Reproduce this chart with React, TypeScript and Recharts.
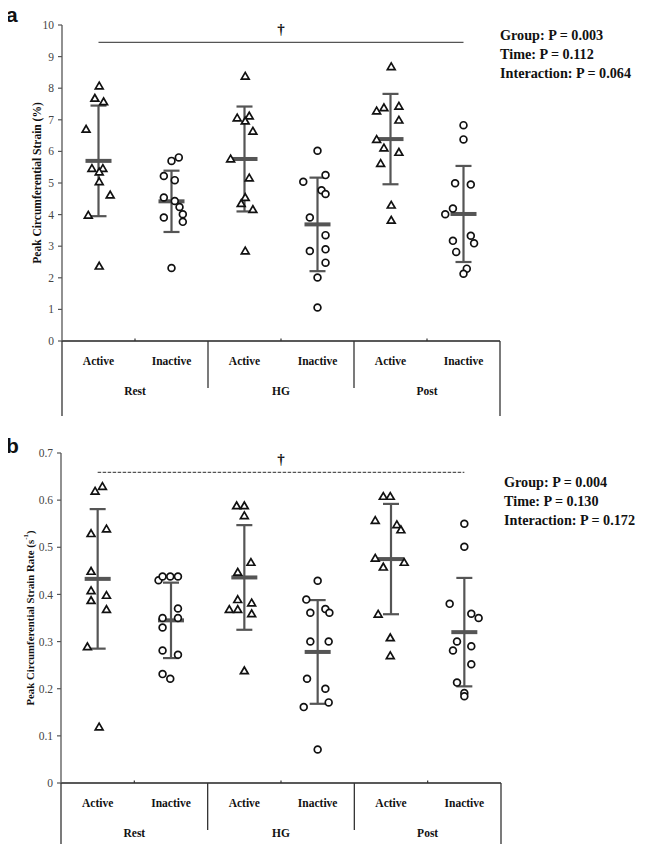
import React from 'react';
import { ScatterChart, Scatter, XAxis, YAxis, ErrorBar, ReferenceLine } from 'recharts';

// ---------- labels ----------
const catLabels = ['Active', 'Inactive', 'Active', 'Inactive', 'Active', 'Inactive'];
const groupLabels = ['Rest', 'HG', 'Post'];
const strainTicks = [0, 1, 2, 3, 4, 5, 6, 7, 8, 9, 10];
const rateTicks = [0, 0.1, 0.2, 0.3, 0.4, 0.5, 0.6, 0.7];
const xTicks = [0, 0.5, 1, 1.5, 2, 2.5, 3, 3.5, 4, 4.5, 5, 5.5, 6];
const statsA = ['Group: P = 0.003', 'Time: P = 0.112', 'Interaction: P = 0.064'];
const statsB = ['Group: P = 0.004', 'Time: P = 0.130', 'Interaction: P = 0.172'];

// ---------- panel a: peak circumferential strain (%) ----------
const strainRestActive = [8.07, 7.68, 7.57, 6.7, 5.46, 5.46, 5.35, 5.04, 4.62, 3.98, 2.37];
const strainRestActiveJit = [0.01, -0.05, 0.07, -0.17, -0.09, 0.06, 0.01, 0.01, 0.16, -0.14, 0.01];
const strainRestInactive = [5.81, 5.7, 5.22, 5.09, 4.54, 4.43, 4.24, 4.01, 3.91, 3.77, 2.31];
const strainRestInactiveJit = [0.1, 0, -0.105, 0.045, -0.105, 0.045, 0.11, 0.155, -0.105, 0.155, 0];
const strainHGActive = [8.38, 7.06, 7.12, 6.96, 6.64, 5.76, 5.16, 4.54, 4.35, 4.16, 2.85];
const strainHGActiveJit = [0.01, -0.1, 0.065, 0.01, 0.115, -0.19, 0.065, 0.01, -0.045, 0.115, 0.01];
const strainHGInactive = [6.02, 5.25, 5.04, 4.77, 4.65, 3.91, 3.35, 2.85, 2.9, 2.48, 2.01, 1.06];
const strainHGInactiveJit = [0, 0.11, -0.195, 0.055, 0.11, -0.105, 0.11, -0.105, 0.11, 0.11, 0, 0];
const strainPostActive = [8.68, 7.28, 7.38, 7.43, 6.99, 6.38, 6.11, 5.97, 5.62, 4.3, 3.82];
const strainPostActiveJit = [0.01, -0.19, -0.09, 0.115, 0.115, -0.19, -0.09, 0.115, -0.135, 0.01, 0.01];
const strainPostInactive = [6.83, 6.38, 4.99, 4.95, 4.19, 4.01, 3.17, 3.33, 3.09, 2.82, 2.29, 2.13];
const strainPostInactiveJit = [0, 0, -0.115, 0.1, -0.145, -0.25, -0.145, 0.1, 0.145, -0.1, 0.045, 0];
const strainMeans = [5.7, 4.42, 5.76, 3.69, 6.39, 4.02];
const strainSDs = [1.75, 0.97, 1.66, 1.48, 1.43, 1.52];
const strainSigY = 9.45;

// ---------- panel b: peak circumferential strain rate (s^-1) ----------
const rateRestActive = [0.619, 0.629, 0.529, 0.539, 0.449, 0.408, 0.398, 0.387, 0.368, 0.289, 0.119];
const rateRestActiveJit = [-0.035, 0.065, -0.09, 0.12, -0.09, -0.09, 0.12, -0.09, 0.12, -0.14, 0.02];
const rateRestInactive = [0.43, 0.438, 0.438, 0.438, 0.37, 0.35, 0.35, 0.33, 0.281, 0.272, 0.231, 0.221];
const rateRestInactiveJit = [-0.17, -0.115, -0.01, 0.095, 0.095, -0.115, 0.095, -0.115, -0.115, 0.095, -0.115, -0.01];
const rateHGActive = [0.588, 0.588, 0.567, 0.468, 0.447, 0.389, 0.368, 0.368, 0.382, 0.359, 0.238];
const rateHGActiveJit = [-0.105, 0, 0, 0.09, -0.09, -0.09, -0.205, -0.09, 0.1, 0.1, 0];
const rateHGInactive = [0.429, 0.389, 0.361, 0.369, 0.361, 0.3, 0.3, 0.221, 0.2, 0.161, 0.171, 0.071];
const rateHGInactiveJit = [0, -0.155, -0.1, 0.105, 0.16, -0.1, 0.15, -0.145, 0.105, -0.19, 0.15, 0];
const ratePostActive = [0.608, 0.608, 0.557, 0.548, 0.537, 0.477, 0.468, 0.458, 0.358, 0.308, 0.27];
const ratePostActiveJit = [-0.105, -0.01, -0.215, 0.08, 0.135, -0.215, 0.18, -0.105, -0.175, -0.01, -0.01];
const ratePostInactive = [0.55, 0.501, 0.38, 0.359, 0.35, 0.3, 0.29, 0.281, 0.252, 0.213, 0.191, 0.184];
const ratePostInactiveJit = [0, 0, -0.2, 0.095, 0.195, -0.1, 0.095, -0.155, 0.095, -0.1, 0, 0];
const rateMeans = [0.433, 0.345, 0.436, 0.278, 0.475, 0.32];
const rateSDs = [0.148, 0.08, 0.111, 0.11, 0.117, 0.115];
const rateSigY = 0.659;

// ---------- helpers ----------
type Pt = { x: number; y: number };
function buildPoints(groups: number[][], jits: number[][], offset: number): Pt[] {
  const out: Pt[] = [];
  groups.forEach((vals, g) => {
    vals.forEach((v, i) => {
      out.push({ x: g * 2 + offset + 0.5 + jits[g][i], y: v });
    });
  });
  return out;
}
function buildSummary(means: number[], sds: number[]) {
  return means.map((m, i) => ({ x: i + 0.5, y: m, sd: sds[i] }));
}

const SERIF = '"Liberation Serif", "Times New Roman", serif';
const INK = '#111';
const GRAY = '#555';

const Triangle = (props: any) => {
  const { cx, cy } = props;
  if (cx == null || cy == null) return null;
  return (
    <polygon
      points={`${cx},${cy - 3.8} ${cx + 3.9},${cy + 2.9} ${cx - 3.9},${cy + 2.9}`}
      fill="#fff"
      stroke={INK}
      strokeWidth={1.7}
      strokeLinejoin="miter"
    />
  );
};
const Circle = (props: any) => {
  const { cx, cy } = props;
  if (cx == null || cy == null) return null;
  return <circle cx={cx} cy={cy} r={3.4} fill="#fff" stroke={INK} strokeWidth={1.7} />;
};
const MeanBar = (props: any) => {
  const { cx, cy } = props;
  if (cx == null || cy == null) return null;
  return <rect x={cx - 13} y={cy - 2} width={26} height={4} fill={GRAY} />;
};

const XTick = (props: any) => {
  const { x, y, payload } = props;
  const v = payload.value as number;
  const n = Math.round(v);
  if (Math.abs(v - n) > 0.1) {
    const idx = Math.floor(v);
    return (
      <text x={x} y={y + 24} textAnchor="middle" fontFamily={SERIF} fontWeight="bold" fontSize={11.5} fill={INK}>
        {catLabels[idx]}
      </text>
    );
  }
  if (n % 2 === 1) {
    return (
      <g>
        <line x1={x} x2={x} y1={y - 2.5} y2={y} stroke="#333" strokeWidth={1.2} />
        <text x={x} y={y + 54} textAnchor="middle" fontFamily={SERIF} fontWeight="bold" fontSize={11.5} fill={INK}>
          {groupLabels[(n - 1) / 2]}
        </text>
      </g>
    );
  }
  const len = n === 0 || n === 6 ? 75 : 47;
  return <line x1={x} x2={x} y1={y} y2={y + len} stroke="#333" strokeWidth={1.3} />;
};

const YLabel = (props: any) => {
  const { viewBox, shift, size, children } = props;
  if (!viewBox) return null;
  const cx = viewBox.x + shift;
  const cy = viewBox.y + viewBox.height / 2;
  return (
    <text
      x={cx}
      y={cy}
      transform={`rotate(-90, ${cx}, ${cy})`}
      textAnchor="middle"
      dominantBaseline="central"
      fontFamily={SERIF}
      fontWeight="bold"
      fontSize={size}
      fill={INK}
    >
      {children}
    </text>
  );
};

type PanelProps = {
  width: number;
  height: number;
  margin: { top: number; right: number; bottom: number; left: number };
  active: Pt[];
  inactive: Pt[];
  summary: { x: number; y: number; sd: number }[];
  ticks: number[];
  domainMax: number;
  sigY: number;
  dashed: boolean;
  yLabel: React.ReactElement;
  fmt: (v: number) => string;
};

const Panel = (p: PanelProps) => (
  <ScatterChart width={p.width} height={p.height} margin={p.margin}>
    <XAxis
      type="number"
      dataKey="x"
      domain={[0, 6]}
      ticks={xTicks}
      interval={0}
      tick={<XTick />}
      tickLine={false}
      tickSize={0}
      tickMargin={0}
      height={30}
      axisLine={{ stroke: '#222', strokeWidth: 1.6 }}
      allowDataOverflow
    />
    <YAxis
      type="number"
      dataKey="y"
      domain={[0, p.domainMax]}
      ticks={p.ticks}
      interval={0}
      width={40}
      tickSize={4}
      tickMargin={4}
      tickFormatter={p.fmt}
      tick={{ fontFamily: SERIF, fontSize: 11.5, fill: '#444' }}
      tickLine={{ stroke: GRAY, strokeWidth: 1.2 }}
      axisLine={{ stroke: GRAY, strokeWidth: 1.3 }}
      label={p.yLabel}
      allowDataOverflow
    />
    <ReferenceLine
      segment={[
        { x: 0.5, y: p.sigY },
        { x: 5.5, y: p.sigY },
      ]}
      stroke={GRAY}
      strokeWidth={1.4}
      strokeDasharray={p.dashed ? '3.5 1.5' : undefined}
      ifOverflow="visible"
      label={{ value: '†', position: 'top', offset: 8, fill: INK, fontSize: 15, fontWeight: 'bold', fontFamily: SERIF }}
    />
    <Scatter data={p.summary} shape={<MeanBar />} isAnimationActive={false}>
      <ErrorBar dataKey="sd" direction="y" width={8} stroke={GRAY} strokeWidth={2.2} isAnimationActive={false} />
    </Scatter>
    <Scatter data={p.active} shape={<Triangle />} isAnimationActive={false} />
    <Scatter data={p.inactive} shape={<Circle />} isAnimationActive={false} />
  </ScatterChart>
);

export default function App() {
  const aActive = buildPoints(
    [strainRestActive, strainHGActive, strainPostActive],
    [strainRestActiveJit, strainHGActiveJit, strainPostActiveJit],
    0
  );
  const aInactive = buildPoints(
    [strainRestInactive, strainHGInactive, strainPostInactive],
    [strainRestInactiveJit, strainHGInactiveJit, strainPostInactiveJit],
    1
  );
  const bActive = buildPoints(
    [rateRestActive, rateHGActive, ratePostActive],
    [rateRestActiveJit, rateHGActiveJit, ratePostActiveJit],
    0
  );
  const bInactive = buildPoints(
    [rateRestInactive, rateHGInactive, ratePostInactive],
    [rateRestInactiveJit, rateHGInactiveJit, ratePostInactiveJit],
    1
  );

  return (
    <div style={{ position: 'relative', width: 646, height: 852, margin: -8, overflow: 'hidden', background: '#fff' }}>
      <div style={{ position: 'absolute', left: 0, top: 0 }}>
        <Panel
          width={646}
          height={420}
          margin={{ top: 25, right: 146, bottom: 49, left: 22 }}
          active={aActive}
          inactive={aInactive}
          summary={buildSummary(strainMeans, strainSDs)}
          ticks={strainTicks}
          domainMax={10}
          sigY={strainSigY}
          dashed={false}
          fmt={(v) => String(v)}
          yLabel={
            <YLabel shift={15} size={11.5}>
              Peak Circumferential Strain (%)
            </YLabel>
          }
        />
      </div>
      <div style={{ position: 'absolute', left: 0, top: 420 }}>
        <Panel
          width={646}
          height={432}
          margin={{ top: 33, right: 145, bottom: 39, left: 21 }}
          active={bActive}
          inactive={bInactive}
          summary={buildSummary(rateMeans, rateSDs)}
          ticks={rateTicks}
          domainMax={0.7}
          sigY={rateSigY}
          dashed={true}
          fmt={(v) => (v === 0 ? '0' : v.toFixed(1))}
          yLabel={
            <YLabel shift={9} size={10.8}>
              Peak Circumferential Strain Rate (s
              <tspan fontSize={7} dy={-4}>-1</tspan>
              <tspan dy={4}>)</tspan>
            </YLabel>
          }
        />
      </div>
      <svg width={646} height={852} style={{ position: 'absolute', left: 0, top: 0, pointerEvents: 'none' }}>
        <text x={6} y={22} fontFamily='"Liberation Sans", Arial, sans-serif' fontWeight="bold" fontSize={21} fill={INK}>
          a
        </text>
        <text x={6} y={453} fontFamily='"Liberation Sans", Arial, sans-serif' fontWeight="bold" fontSize={21} fill={INK}>
          b
        </text>
        {statsA.map((s, i) => (
          <text key={'a' + i} x={500} y={40 + i * 19} fontFamily={SERIF} fontWeight="bold" fontSize={14.2} fill={INK}>
            {s}
          </text>
        ))}
        {statsB.map((s, i) => (
          <text key={'b' + i} x={504} y={487 + i * 19} fontFamily={SERIF} fontWeight="bold" fontSize={14.2} fill={INK}>
            {s}
          </text>
        ))}
      </svg>
    </div>
  );
}
